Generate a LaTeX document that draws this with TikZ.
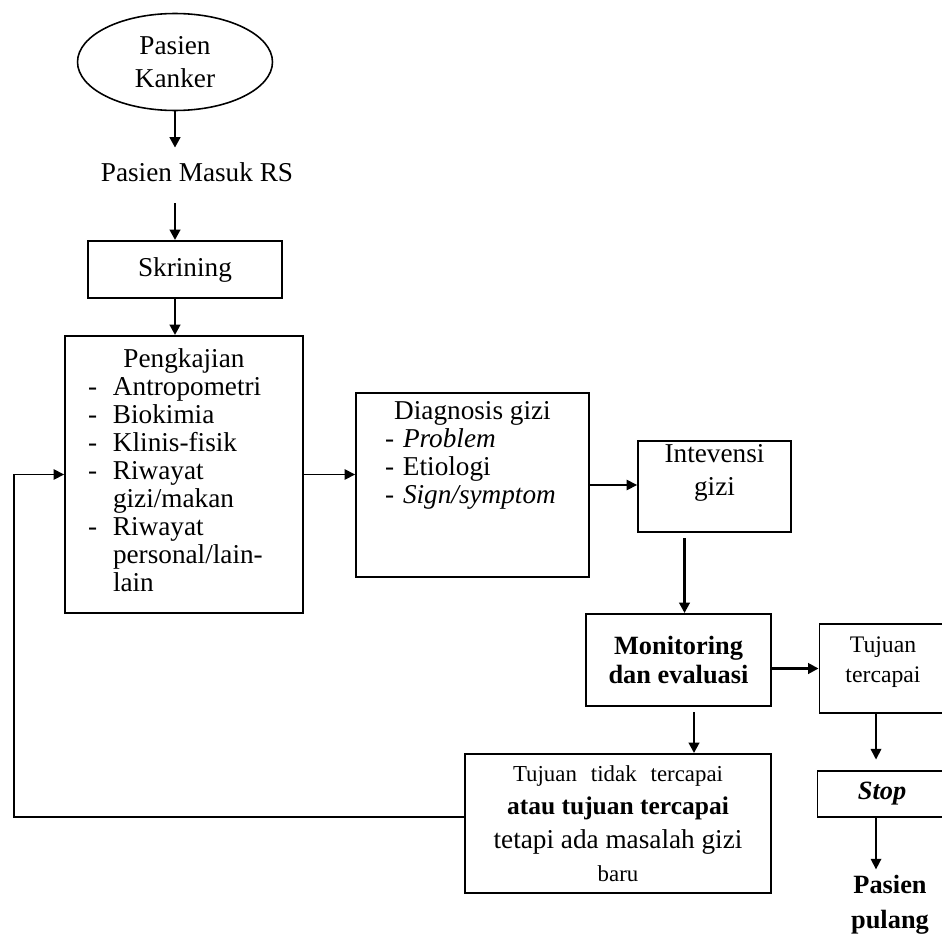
\documentclass[tikz,border=0pt]{standalone}
\usepackage{fontspec}
\setmainfont{Liberation Serif}
\usepackage{tikz}
\usetikzlibrary{arrows.meta,calc,positioning,shapes.geometric}

\begin{document}
\begin{tikzpicture}[x=0.02cm,y=-0.02cm,
    font=\fontsize{15.5}{16}\selectfont,
    kotak/.style={draw,line width=1.1pt,inner sep=0pt},
    panah/.style={-{Triangle[length=6pt,width=6pt]},line width=1.5pt},
    panahtipis/.style={-{Triangle[length=6pt,width=6pt]},line width=0.9pt}]
        \useasboundingbox (0,0) rectangle (942,936);
        % alur masuk
        \node[ellipse,draw,line width=0.9pt,minimum width=3.9cm,minimum height=1.94cm,
          align=center,font=\fontsize{15.5}{18.7}\selectfont] (kanker) at (175,62) {Pasien\\Kanker};
        \node[minimum height=0.96cm,inner sep=0pt] (masuk) at (197,172) {Pasien Masuk RS};
        \node[kotak,minimum width=3.88cm,minimum height=1.14cm] (skrining) at (185,269.5) {Skrining};
        \node[kotak,minimum width=4.76cm,minimum height=5.54cm] (pengkajian) at (184,474.5) {
          \begin{minipage}{3.84cm}
            {\centering Pengkajian\par}
            \begin{tabular}{@{}p{0.5cm}@{}l@{}}
              - & Antropometri\\
              - & Biokimia\\
              - & Klinis-fisik\\
              - & Riwayat\\
                & gizi/makan\\
              - & Riwayat\\
                & personal/lain-\\
                & lain
            \end{tabular}
          \end{minipage}};
        \node[kotak,minimum width=4.66cm,minimum height=3.68cm] (diagnosis) at (472.5,485) {
          \begin{minipage}[c][3.68cm][t]{4.1cm}
            \vspace*{5pt}
            {\centering Diagnosis gizi\par}
            \begin{tabular}{@{\hspace{0.3cm}}p{0.36cm}@{}l@{}}
              - & \textit{Problem}\\
              - & Etiologi\\
              - & \textit{Sign/symptom}
            \end{tabular}
          \end{minipage}};
        \node[kotak,minimum width=3.06cm,minimum height=1.82cm] (intervensi) at (714.5,486.5) {
          \begin{minipage}[c][1.82cm][t]{3cm}
            \vspace*{2pt}
            \centering\fontsize{15.5}{18.7}\selectfont Intevensi\\gizi\par
          \end{minipage}};
        % evaluasi
        \node[kotak,minimum width=3.7cm,minimum height=1.84cm,align=center,
          font=\fontsize{15}{17}\selectfont\bfseries] (monitoring) at (678.5,660) {Monitoring\\dan evaluasi};
        \node[kotak,minimum width=2.54cm,minimum height=1.78cm] (tercapai) at (883,668.5) {
          \begin{minipage}[c][1.78cm][t]{2.4cm}
            \vspace*{7pt}
            \centering\fontsize{13.5}{17.6}\selectfont Tujuan\\tercapai\par
          \end{minipage}};
        \node[kotak,minimum width=2.58cm,minimum height=0.92cm,
          font=\fontsize{15}{17}\selectfont\bfseries\itshape] (stop) at (882,794) {Stop};
        \node[align=center,font=\fontsize{15}{19.8}\selectfont\bfseries] (pulang) at (890,905) {Pasien\\pulang};
        \node[kotak,minimum width=6.12cm,minimum height=2.78cm] (tidak) at (618,823.5) {
          \begin{minipage}{5.9cm}
            \centering\fontsize{15.5}{19}\selectfont
            {\fontsize{13}{19}\selectfont Tujuan\hspace{8pt}tidak\hspace{8pt}tercapai}\\
            {\fontsize{14.5}{19}\selectfont\bfseries atau tujuan tercapai}\\
            tetapi ada masalah gizi\\
            {\fontsize{13}{19}\selectfont baru}\par
          \end{minipage}};
        \coordinate (turunA) at ([xshift=-0.6cm]intervensi.south);
        \coordinate (turunB) at ([xshift=0.31cm]monitoring.south);
        \coordinate (turunC) at ([xshift=-0.14cm]tercapai.south);
        \coordinate (balik) at ([yshift=0.13cm]tidak.west);
        \coordinate (kiri) at (14,0);
        % panah
        \draw[panah] (kanker) -- (masuk.north -| kanker);
        \draw[panah,shorten <=4pt] (masuk.south -| kanker) -- (skrining.north -| kanker);
        \draw[panah] (skrining.south -| kanker) -- (pengkajian.north -| kanker);
        \draw[panahtipis] (pengkajian.east) -- (pengkajian.east -| diagnosis.west);
        \draw[panahtipis] (diagnosis.east) -- (diagnosis.east -| intervensi.west);
        \draw[panah,shorten <=3pt] (turunA) -- (turunA |- monitoring.north);
        \draw[panah] (tercapai.west -| monitoring.east) -- (tercapai.west);
        \draw[panah,shorten <=3pt] (turunB) -- (turunB |- tidak.north);
        \draw[panahtipis,shorten >=6pt] (turunC) -- (turunC |- stop.north);
        \draw[panahtipis] (stop.south -| turunC) -- (turunC |- pulang.north);
        \draw[panahtipis] (balik) -- (balik -| kiri) |- (pengkajian.west);
      \end{tikzpicture}
\end{document}
